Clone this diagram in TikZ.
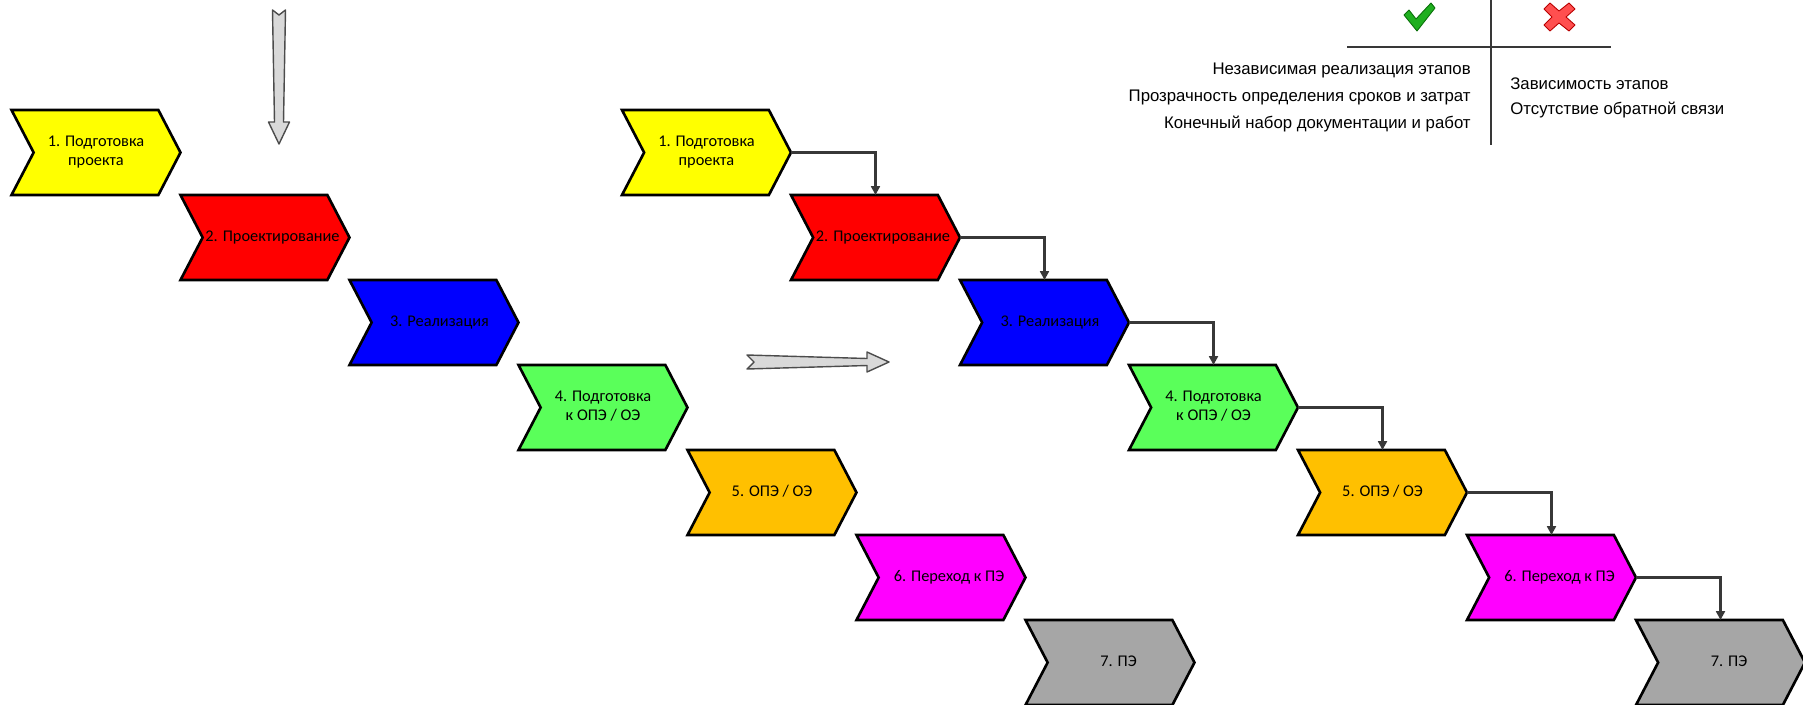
\documentclass[tikz,border=0pt]{standalone}
\usepackage{fontspec}
\setmainfont{Carlito}
\newfontfamily\arialfont{Liberation Sans}
\usetikzlibrary{shapes.symbols, arrows.meta, positioning}
\definecolor{stepyellow}{HTML}{FFFF00}
\definecolor{stepred}{HTML}{FF0000}
\definecolor{stepblue}{HTML}{0000FF}
\definecolor{stepgreen}{HTML}{5AFF5A}
\definecolor{steporange}{HTML}{FFC000}
\definecolor{stepmagenta}{HTML}{FF00FF}
\definecolor{stepgray}{HTML}{A6A6A6}
\definecolor{linkgray}{HTML}{383838}
\definecolor{arrowfill}{HTML}{D9D9D9}
\definecolor{okgreen}{HTML}{1FAF1F}
\definecolor{okdark}{HTML}{0A700A}
\definecolor{nored}{HTML}{FF4F4F}
\definecolor{nodark}{HTML}{B80000}
% fixed-size chevrons: the label takes no width (#1 nudges it right)
\newcommand{\stagetext}[2]{\makebox[0pt]{\hspace{#1}\begin{tabular}{@{}c@{}}#2\end{tabular}}}
\tikzset{
  chevron/.style={signal, signal from=west, signal to=east, signal pointer angle=125,
              draw=black, fill=#1, line width=1.5pt,
              minimum width=3.38cm, minimum height=1.7cm,
              inner sep=0pt, outer sep=0pt,
              font=\fontsize{9.3}{10.5}\selectfont},
  linkarr/.style={-{Triangle[length=5pt, width=5pt]}, line width=1.25pt, color=linkgray},
  bigarrow/.style={draw=black!70, fill=arrowfill, line width=0.8pt, line join=round},
  tableline/.style={line width=1.2pt, color=linkgray},
  prosline/.style={font=\arialfont\fontsize{9.55}{12}\selectfont, inner sep=0pt},
}
\begin{document}
\begin{tikzpicture}[x=0.02cm, y=-0.02cm]
  \useasboundingbox (0,0) rectangle (1803,704);

  % Left column (no links)
  \foreach \i/\c/\s/\t in {1/stepyellow/0cm/{1. Подготовка\\проекта},
      2/stepred/0.3cm/{2. Проектирование}, 3/stepblue/0.22cm/{3. Реализация},
      4/stepgreen/0cm/{4. Подготовка\\к ОПЭ / ОЭ}, 5/steporange/0cm/{5. ОПЭ / ОЭ},
      6/stepmagenta/0.32cm/{6. Переход к ПЭ}, 7/stepgray/0.34cm/{7. ПЭ}}
    \node[chevron=\c] (l\i) at ({96+169*(\i-1)}, {152.5+85*(\i-1)}) {\stagetext{\s}{\t}};

  % Right column (with links)
  \foreach \i/\c/\s/\t in {1/stepyellow/0cm/{1. Подготовка\\проекта},
      2/stepred/0.3cm/{2. Проектирование}, 3/stepblue/0.22cm/{3. Реализация},
      4/stepgreen/0cm/{4. Подготовка\\к ОПЭ / ОЭ}, 5/steporange/0cm/{5. ОПЭ / ОЭ},
      6/stepmagenta/0.32cm/{6. Переход к ПЭ}, 7/stepgray/0.34cm/{7. ПЭ}}
    \node[chevron=\c] (r\i) at ({706.5+169*(\i-1)}, {152.5+85*(\i-1)}) {\stagetext{\s}{\t}};

  \foreach \i [count=\j from 2] in {1,...,6}
    \draw[linkarr] (r\i.east) -| (r\j.north);

  % Big gray arrows
  \draw[bigarrow] (272.5,10) -- (279,15) -- (285.5,10) -- (283.5,122) -- (289.5,122)
    -- (279,144) -- (268.5,122) -- (274.5,122) -- cycle;
  \draw[bigarrow] (747,355) -- (754,362) -- (747,369) -- (867,365.5) -- (867,372)
    -- (889,362) -- (867,352) -- (867,358.5) -- cycle;

  % Pros / cons
  \draw[tableline] (1491,0) -- (1491,145);
  \draw[tableline] (1347,47) -- (1611,47);
  \filldraw[fill=okgreen, draw=okdark, line width=0.5pt, line join=round]
    (1404,15) -- (1409,10) -- (1416,19) -- (1431,3) -- (1435,8) -- (1417,31) -- cycle;
  \filldraw[fill=nored, draw=nodark, line width=0.5pt, line join=round]
    (1544,9) -- (1550,3) -- (1559,11) -- (1569,3) -- (1575,9) -- (1566,17)
    -- (1575,25) -- (1569,31) -- (1559,23) -- (1550,31) -- (1544,25) -- (1552,17) -- cycle;

  \node[prosline, anchor=east] (pro1) at (1471,70) {Независимая реализация этапов};
  \node[prosline, anchor=east] (pro2) at (1471,97) {Прозрачность определения сроков и затрат};
  \node[prosline, anchor=east] (pro3) at (1471,124) {Конечный набор документации и работ};
  \node[prosline, anchor=west] (con1) at (1510,84) {Зависимость этапов};
  \node[prosline, anchor=west] (con2) at (1510,110) {Отсутствие обратной связи};
\end{tikzpicture}
\end{document}
